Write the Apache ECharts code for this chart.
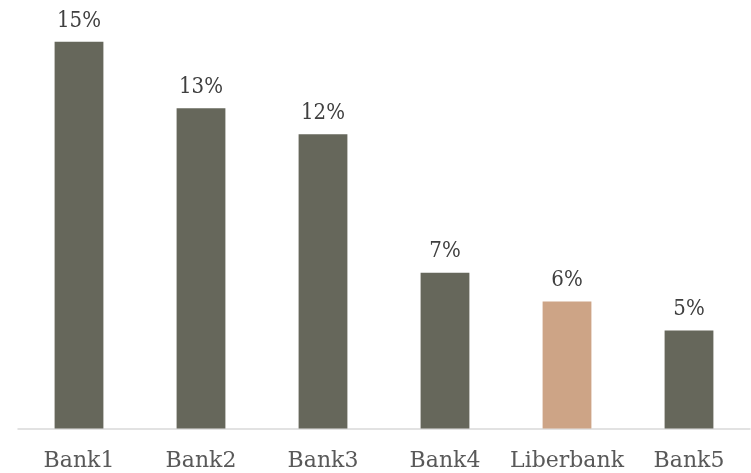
<!DOCTYPE html>
<html><head><meta charset="utf-8">
<script src="https://cdn.jsdelivr.net/npm/echarts@6/dist/echarts.min.js"></script>
<style>html,body{margin:0;padding:0;background:#fff}#c{width:751px;height:473px}</style>
</head><body><div id="c"></div>
<script>
const categories = ["Bank1", "Bank2", "Bank3", "Bank4", "Liberbank", "Bank5"];
const values = [15.0, 12.7, 11.8, 7.0, 6.0, 5.0];
const highlight = "Liberbank";

const chart = echarts.init(document.getElementById('c'));
chart.setOption({
  animation: false,
  grid: { left: 18, right: 1, top: 13, bottom: 44.5, containLabel: false },
  xAxis: {
    type: 'category', data: categories,
    axisLine: { lineStyle: { color: '#d9d9d9', width: 1.5 } },
    axisTick: { show: false },
    axisLabel: { interval: 0, color: '#595959', fontFamily: 'DejaVu Serif', fontSize: 22, margin: 22 }
  },
  yAxis: { type: 'value', min: 1.6, max: 16, show: false, splitLine: { show: false } },
  series: [{
    type: 'bar', barWidth: '40%',
    data: categories.map((c, i) => ({
      value: values[i],
      itemStyle: { color: c === highlight ? '#CDA486' : '#66675B' }
    })),
    label: {
      show: true, position: 'top', distance: 10,
      color: '#404040', fontFamily: '"DejaVu Serif Condensed", "DejaVu Serif"', fontSize: 22,
      formatter: p => Math.round(p.value) + '%'
    }
  }]
});
</script></body></html>
